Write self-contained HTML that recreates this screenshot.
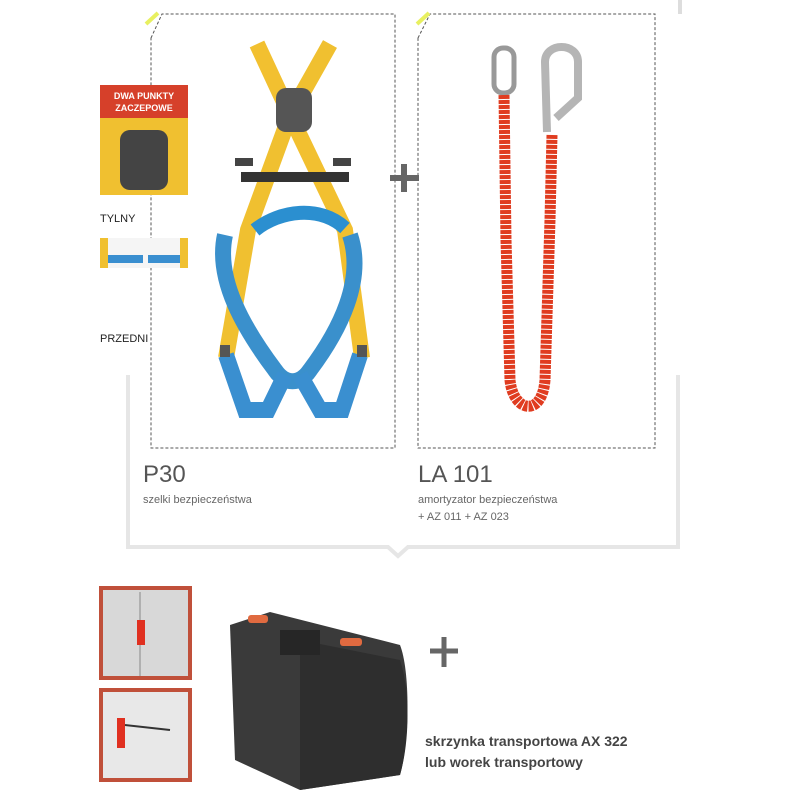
<!DOCTYPE html>
<html><head><style>
body{margin:0;background:#fff;}
svg{display:block;font-family:"Liberation Sans",sans-serif;}
</style></head><body>
<svg width="800" height="800" viewBox="0 0 800 800">
<rect width="800" height="800" fill="#fff"/>
<!-- gray bracket -->
<path d="M128 375 V547 H388 L398 556 L408 547 H678 V375" fill="none" stroke="#e6e6e6" stroke-width="4"/>
<line x1="680" y1="0" x2="680" y2="14" stroke="#ddd" stroke-width="4"/>
<!-- dashed boxes -->
<path d="M151 38 L162 14 H395 V448 H151 Z" fill="none" stroke="#555" stroke-width="1" stroke-dasharray="3,2"/>
<path d="M418 38 L430 14 H655 V448 H418 Z" fill="none" stroke="#555" stroke-width="1" stroke-dasharray="3,2"/>
<line x1="146" y1="24" x2="158" y2="13" stroke="#e8f060" stroke-width="4"/>
<line x1="417" y1="24" x2="429" y2="13" stroke="#e8f060" stroke-width="4"/>
<!-- plus signs -->
<path d="M404 164 V192 M390 178 H419" stroke="#666" stroke-width="6"/>
<path d="M444 637 V667 M430 651 H458" stroke="#666" stroke-width="5"/>
<!-- harness -->
<g fill="none" stroke-linecap="butt">
<path d="M257 44 L290 115 L345 230 L362 358" stroke="#f2c030" stroke-width="16"/>
<path d="M330 44 L290 115 L248 230 L226 358" stroke="#f0c030" stroke-width="16"/>
<path d="M255 230 C280 210 320 205 345 228" stroke="#2b8fd0" stroke-width="14"/>
<path d="M225 235 C215 280 245 330 275 370 C285 385 300 385 310 370 C340 330 365 280 350 235" stroke="#3a90cc" stroke-width="16"/>
<path d="M226 355 L245 410 L268 410 L285 375" stroke="#3a8fd0" stroke-width="16"/>
<path d="M300 375 L320 410 L342 410 L360 355" stroke="#3a8fd0" stroke-width="16"/>
</g>
<rect x="241" y="172" width="108" height="10" fill="#333"/>
<rect x="276" y="88" width="36" height="44" rx="10" fill="#555"/>
<rect x="235" y="158" width="18" height="8" fill="#444"/>
<rect x="333" y="158" width="18" height="8" fill="#444"/>
<rect x="220" y="345" width="10" height="12" fill="#555"/>
<rect x="357" y="345" width="10" height="12" fill="#555"/>
<!-- lanyard -->
<rect x="494" y="48" width="20" height="45" rx="9" fill="none" stroke="#999" stroke-width="5"/>
<path d="M547 132 L545 62 C545 42 578 42 578 62 L578 98 L556 118" fill="none" stroke="#b5b5b5" stroke-width="8"/>
<path d="M504 95 L506 240 L510 380 C513 412 542 418 545 380 L550 220 L552 135" fill="none" stroke="#e03c20" stroke-width="11" stroke-dasharray="4,1"/>
<!-- thumbnails -->
<rect x="100" y="85" width="88" height="110" fill="#f0c030"/>
<rect x="120" y="130" width="48" height="60" rx="10" fill="#444"/>
<rect x="100" y="85" width="88" height="33" fill="#d6402a"/>
<text x="144" y="99" font-size="9" font-weight="bold" fill="#fff" text-anchor="middle">DWA PUNKTY</text>
<text x="144" y="111" font-size="9" font-weight="bold" fill="#fff" text-anchor="middle">ZACZEPOWE</text>
<text x="100" y="222" font-size="11" fill="#222">TYLNY</text>
<rect x="100" y="238" width="88" height="30" fill="#f5f5f5"/>
<rect x="100" y="238" width="8" height="30" fill="#f0c030"/>
<rect x="180" y="238" width="8" height="30" fill="#f0c030"/>
<rect x="108" y="255" width="35" height="8" fill="#3a8fd0"/>
<rect x="148" y="255" width="32" height="8" fill="#3a8fd0"/>
<text x="100" y="342" font-size="11" fill="#222">PRZEDNI</text>
<!-- labels -->
<text x="143" y="482" font-size="24" fill="#555">P30</text>
<text x="143" y="503" font-size="11" fill="#666">szelki bezpieczeństwa</text>
<text x="418" y="482" font-size="24" fill="#555">LA 101</text>
<text x="418" y="503" font-size="11" fill="#666">amortyzator bezpieczeństwa</text>
<text x="418" y="520" font-size="11" fill="#666">+ AZ 011 + AZ 023</text>
<!-- bottom images -->
<rect x="101" y="588" width="89" height="90" fill="#d8d8d8" stroke="#c0503a" stroke-width="4"/>
<line x1="140" y1="592" x2="140" y2="676" stroke="#888"/>
<rect x="137" y="620" width="8" height="25" fill="#e03020"/>
<rect x="101" y="690" width="89" height="90" fill="#e8e8e8" stroke="#c0503a" stroke-width="4"/>
<rect x="117" y="718" width="8" height="30" fill="#e03020"/>
<path d="M125 725 L170 730" stroke="#333" stroke-width="2"/>
<!-- case -->
<path d="M230 625 L270 612 L400 645 C410 670 410 740 400 775 L300 790 L235 760 Z" fill="#3a3a3a"/>
<path d="M300 640 L400 660 C410 690 410 740 400 775 L300 790 Z" fill="#2e2e2e"/>
<rect x="248" y="615" width="20" height="8" rx="3" fill="#e06a40"/>
<rect x="340" y="638" width="22" height="8" rx="3" fill="#e06a40"/>
<rect x="280" y="630" width="40" height="25" fill="#262626"/>
<text x="425" y="746" font-size="14" font-weight="bold" fill="#444">skrzynka transportowa AX 322</text>
<text x="425" y="767" font-size="14" font-weight="bold" fill="#444">lub worek transportowy</text>
</svg>
</body></html>
